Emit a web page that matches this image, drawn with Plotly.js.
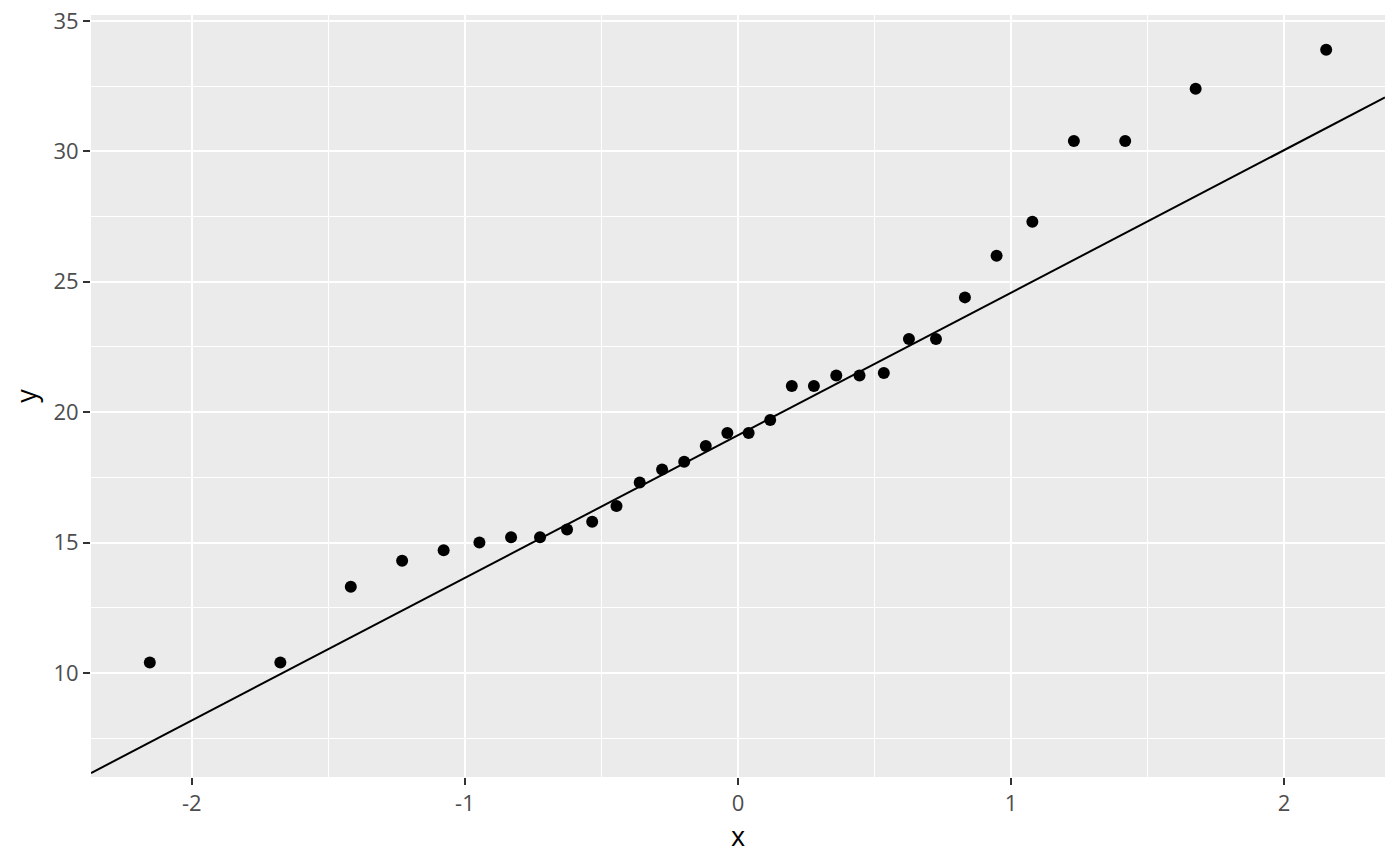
<!DOCTYPE html>
<html>
<head>
<meta charset="utf-8">
<script src="https://cdn.plot.ly/plotly-3.0.1.min.js"></script>
<style>html,body{margin:0;padding:0;background:#fff;}#chart{width:1400px;height:866px;}</style>
</head>
<body>
<div id="chart"></div>
<script>
// Theoretical normal quantiles (x) and sorted sample values (y)
var theoretical = [-2.154, -1.676, -1.418, -1.230, -1.078, -0.947, -0.831, -0.725,
  -0.626, -0.534, -0.445, -0.360, -0.278, -0.197, -0.118, -0.039,
  0.039, 0.118, 0.197, 0.278, 0.360, 0.445, 0.534, 0.626,
  0.725, 0.831, 0.947, 1.078, 1.230, 1.418, 1.676, 2.154];
var sample = [10.4, 10.4, 13.3, 14.3, 14.7, 15.0, 15.2, 15.2, 15.5, 15.8, 16.4, 17.3,
  17.8, 18.1, 18.7, 19.2, 19.2, 19.7, 21.0, 21.0, 21.4, 21.4, 21.5, 22.8,
  22.8, 24.4, 26.0, 27.3, 30.4, 30.4, 32.4, 33.9];
var xTickVals = [-2, -1, 0, 1, 2];
var xTickText = ['-2', '-1', '0', '1', '2'];
var yTickVals = [10, 15, 20, 25, 30, 35];
var yTickText = ['10', '15', '20', '25', '30', '35'];

// Reference line through the quartiles (R type-7 quantile)
function quant(arr, p) {
  var s = arr.slice().sort(function(a, b){return a - b;});
  var h = (s.length - 1) * p, lo = Math.floor(h);
  return s[lo] + (h - lo) * (s[Math.min(lo + 1, s.length - 1)] - s[lo]);
}
var zq = 0.6744897501960817;
var q1 = quant(sample, 0.25), q3 = quant(sample, 0.75);
var slope = (q3 - q1) / (2 * zq);
var intercept = q1 + zq * slope;

var xmin = Math.min.apply(null, theoretical), xmax = Math.max.apply(null, theoretical);
var xpad = (xmax - xmin) * 0.05;
var xr = [xmin - xpad, xmax + xpad];
var lineYmin = intercept + slope * xmin, lineYmax = intercept + slope * xmax;
var ymin = Math.min(Math.min.apply(null, sample), lineYmin);
var ymax = Math.max(Math.max.apply(null, sample), lineYmax);
var ypad = (ymax - ymin) * 0.05;
var yr = [ymin - ypad, ymax + ypad];

var traces = [
  {
    x: theoretical, y: sample, type: 'scatter', mode: 'markers',
    marker: {color: '#000000', size: 12},
    hoverinfo: 'x+y', showlegend: false
  },
  {
    x: xr, y: [intercept + slope * xr[0], intercept + slope * xr[1]],
    type: 'scatter', mode: 'lines',
    line: {color: '#000000', width: 2},
    hoverinfo: 'skip', showlegend: false
  }
];

var tickFont = {family: 'Open Sans, sans-serif', size: 22, color: '#4D4D4D'};
var titleFont = {family: 'Open Sans, sans-serif', size: 27, color: '#000000'};

var layout = {
  width: 1400, height: 866,
  margin: {l: 91, r: 15, t: 15, b: 89},
  paper_bgcolor: '#FFFFFF', plot_bgcolor: '#EBEBEB',
  font: {family: 'Open Sans, sans-serif', size: 22, color: '#4D4D4D'},
  xaxis: {
    showline: false, zeroline: false,
    gridcolor: '#FFFFFF', gridwidth: 2,
    ticks: 'outside', ticklen: 7, tickwidth: 2, tickcolor: '#333333',
    tickfont: tickFont,
    range: xr, tickmode: 'array', tickvals: xTickVals, ticktext: xTickText,
    minor: {dtick: 0.5, tick0: 0, showgrid: true, gridcolor: '#FFFFFF', gridwidth: 1, ticks: ''},
    title: {text: 'x', font: titleFont, standoff: 6}
  },
  yaxis: {
    showline: false, zeroline: false,
    gridcolor: '#FFFFFF', gridwidth: 2,
    ticks: 'outside', ticklen: 7, tickwidth: 2, tickcolor: '#333333',
    tickfont: tickFont,
    range: yr, tickmode: 'array', tickvals: yTickVals, ticktext: yTickText,
    minor: {dtick: 2.5, tick0: 0, showgrid: true, gridcolor: '#FFFFFF', gridwidth: 1, ticks: ''},
    title: {text: 'y', font: titleFont, standoff: 8}
  }
};

Plotly.newPlot('chart', traces, layout, {displayModeBar: false, staticPlot: true});
</script>
</body>
</html>
